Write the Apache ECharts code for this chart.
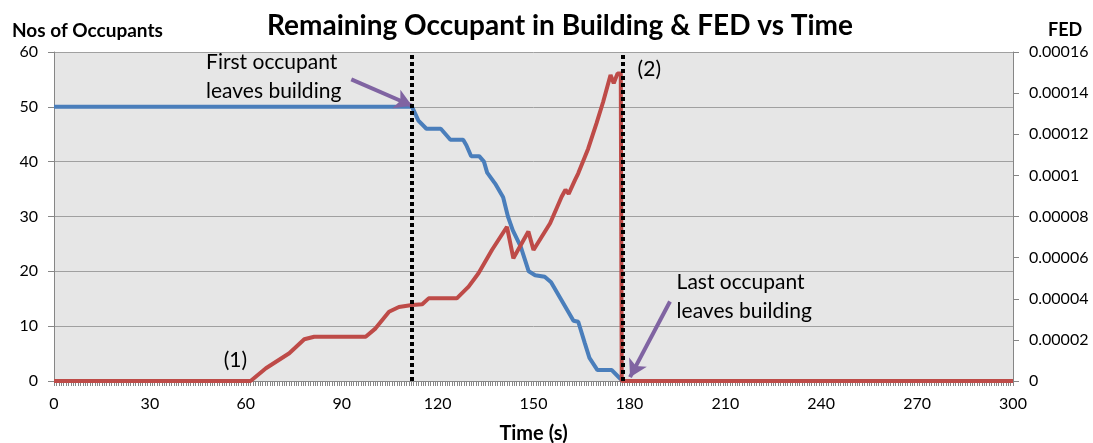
<!DOCTYPE html>
<html>
<head>
<meta charset="utf-8">
<script src="https://cdn.jsdelivr.net/npm/echarts@6/dist/echarts.min.js"></script>
<style>
  html, body { margin: 0; padding: 0; background: #fff; }
  #chart { width: 1093px; height: 443px; }
</style>
</head>
<body>
<div id="chart"></div>
<script>
// remaining occupants (left axis)
var occTime = [0, 112, 114, 116.5, 121, 122.5, 124, 128, 129, 130.5, 133, 134.5, 135.5, 138, 140.5, 142, 143.5, 146, 148.5, 150.5, 153.5, 155.5, 158.5, 162.5, 164, 166, 167.5, 170, 174.5, 177, 178]
var occValue = [50, 50, 47.5, 46, 46, 45, 44, 44, 43, 41, 41, 40, 38, 36, 33.5, 30, 27.5, 24.5, 20, 19.3, 19, 18, 15, 11, 10.8, 7, 4.2, 2, 2, 0.5, 0]

// FED (right axis)
var fedTime = [0, 61.5, 66.3, 73.6, 78.3, 81.4, 97.5, 100.6, 104.8, 107.9, 112, 115.2, 117.2, 126, 129.7, 132.8, 137, 141.7, 143.7, 148.4, 150, 155.2, 158.8, 160, 161, 163, 164, 167.1, 169.7, 171.8, 174.1, 175.1, 176.3, 177.3, 177.6, 300]
var fedValue = [0, 0, 0.0000062, 0.0000135, 0.0000203, 0.0000215, 0.0000215, 0.0000256, 0.0000337, 0.000036, 0.000037, 0.0000373, 0.0000402, 0.0000402, 0.0000459, 0.0000524, 0.0000637, 0.000075, 0.0000597, 0.0000727, 0.0000637, 0.0000767, 0.0000896, 0.000093, 0.000091, 0.0000978, 0.000101, 0.000113, 0.0001253, 0.0001358, 0.0001488, 0.0001448, 0.0001496, 0.0001496, 0, 0]

var firstLeave = 112
var lastLeave = 178

function pairs(xs, ys) {
  var out = []
  for (var i = 0; i < xs.length; i++) out.push([xs[i], ys[i]])
  return out
}

var font = 'Lato'
var chart = echarts.init(document.getElementById('chart'))

var option = {
  animation: false,
  title: {
    text: 'Remaining Occupant in Building & FED vs Time',
    left: 262,
    top: 7,
    textStyle: { fontFamily: font, fontWeight: 'bold', fontSize: 28, color: '#000' }
  },
  grid: {
    left: 54, right: 80, top: 52, bottom: 62,
    containLabel: false,
    outerBoundsMode: 'none',
    show: true,
    backgroundColor: '#e6e6e6',
    borderWidth: 0
  },
  xAxis: {
    type: 'value',
    min: 0, max: 300, interval: 30,
    name: 'Time (s)',
    nameLocation: 'middle',
    nameGap: 43,
    nameTextStyle: { fontFamily: font, fontWeight: 'bold', fontSize: 20, color: '#000' },
    axisLine: { lineStyle: { color: '#868686', width: 1 } },
    axisTick: { show: true, length: 5, lineStyle: { color: '#868686' } },
    minorTick: { show: true, splitNumber: 40, length: 5, lineStyle: { color: '#868686' } },
    axisLabel: { fontFamily: font, fontSize: 16, color: '#000', margin: 15 },
    splitLine: { show: false }
  },
  yAxis: [
    {
      type: 'value',
      min: 0, max: 60, interval: 10,
      axisLine: { show: true, lineStyle: { color: '#868686' } },
      axisTick: { show: true, length: 6, lineStyle: { color: '#868686' } },
      axisLabel: { fontFamily: font, fontSize: 16, color: '#000', margin: 16 },
      splitLine: { show: true, lineStyle: { color: '#a0a0a0', width: 1 } }
    },
    {
      type: 'value',
      min: 0, max: 0.00016, interval: 0.00002,
      position: 'right',
      axisLine: { show: true, lineStyle: { color: '#868686' } },
      axisTick: { show: true, length: 6, lineStyle: { color: '#868686' } },
      axisLabel: { fontFamily: font, fontSize: 16, color: '#000', margin: 16 },
      splitLine: { show: false }
    }
  ],
  graphic: [
    { type: 'text', left: 12, top: 21, style: { text: 'Nos of Occupants', fontFamily: font, fontWeight: 'bold', fontSize: 19, fill: '#000' } },
    { type: 'text', left: 1048, top: 21, style: { text: 'FED', fontFamily: font, fontWeight: 'bold', fontSize: 18, fill: '#000' } }
  ],
  series: [
    {
      name: 'Occupants',
      type: 'line',
      yAxisIndex: 0,
      data: pairs(occTime, occValue),
      showSymbol: false,
      lineStyle: { color: '#4a7ebb', width: 4 },
      itemStyle: { color: '#4a7ebb' },
      markPoint: {
        symbol: 'circle', symbolSize: 0, silent: true,
        label: { show: true, position: 'right', fontFamily: font, fontSize: 21, color: '#000', lineHeight: 29, align: 'left' },
        data: [
          { coord: [46, 55.4], label: { formatter: 'First occupant\nleaves building' } },
          { coord: [193.2, 15.3], label: { formatter: 'Last occupant\nleaves building' } },
          { coord: [51.5, 3.8], label: { formatter: '(1)' } },
          { coord: [181, 56.8], label: { formatter: '(2)' } }
        ]
      },
      markLine: {
        silent: true,
        symbol: ['none', 'arrow'],
        symbolSize: [15, 17],
        label: { show: false },
        lineStyle: { color: '#8064a2', width: 4, type: 'solid' },
        data: [
          [{ coord: [93, 55] }, { coord: [112, 50.2] }],
          [{ coord: [192.7, 14.5] }, { coord: [180.2, 0.7] }]
        ]
      }
    },
    {
      name: 'FED',
      type: 'line',
      yAxisIndex: 1,
      data: pairs(fedTime, fedValue),
      showSymbol: false,
      lineStyle: { color: '#be4b48', width: 4 },
      itemStyle: { color: '#be4b48' },
      markLine: {
        silent: true,
        symbol: ['none', 'none'],
        label: { show: false },
        lineStyle: { color: '#000', width: 4, type: [4, 3] },
        data: [{ xAxis: firstLeave }, { xAxis: lastLeave }]
      }
    }
  ]
}
chart.setOption(option)
</script>
</body>
</html>
